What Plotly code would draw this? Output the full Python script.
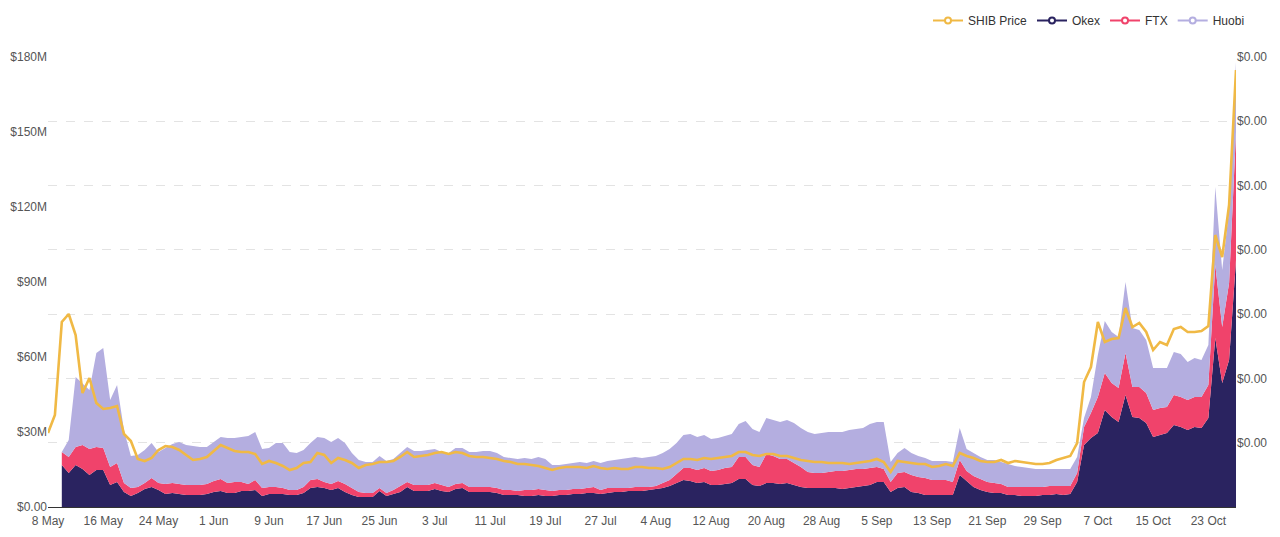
import pandas as pd
import plotly.graph_objects as go

# ---------------- data ----------------
start_date = "2021-05-08"
end_date = "2021-10-27"
dates = list(pd.date_range(start_date, end_date, freq="D"))  # 173 days

# SHIB price (USD), one value per day from 8 May
shib_price = [
    14.8e-6, 18.4e-6, 37.0e-6, 38.6e-6, 34.4e-6, 22.8e-6, 25.8e-6, 20.8e-6, 19.6e-6, 19.8e-6,
    20.2e-6, 14.6e-6, 13.2e-6, 9.6e-6, 9.2e-6, 9.8e-6, 11.4e-6, 12.2e-6, 12.0e-6, 11.4e-6,
    10.4e-6, 9.4e-6, 9.6e-6, 10.0e-6, 11.2e-6, 12.4e-6, 11.8e-6, 11.2e-6, 11.0e-6, 11.0e-6,
    10.6e-6, 8.6e-6, 9.2e-6, 8.8e-6, 8.2e-6, 7.4e-6, 7.8e-6, 8.8e-6, 9.0e-6, 10.8e-6,
    10.4e-6, 8.8e-6, 9.8e-6, 9.4e-6, 8.8e-6, 7.8e-6, 8.4e-6, 8.6e-6, 9.0e-6, 9.0e-6,
    9.2e-6, 10.0e-6, 11.0e-6, 10.0e-6, 10.2e-6, 10.4e-6, 10.8e-6, 11.0e-6, 10.6e-6, 11.0e-6,
    10.8e-6, 10.2e-6, 10.0e-6, 10.0e-6, 9.8e-6, 9.6e-6, 9.2e-6, 9.0e-6, 8.6e-6, 8.6e-6,
    8.4e-6, 8.2e-6, 7.8e-6, 7.4e-6, 7.8e-6, 8.0e-6, 8.0e-6, 8.0e-6, 7.8e-6, 8.2e-6,
    7.8e-6, 7.6e-6, 7.8e-6, 7.6e-6, 7.6e-6, 8.0e-6, 8.0e-6, 7.8e-6, 7.8e-6, 7.6e-6,
    8.0e-6, 8.8e-6, 9.6e-6, 9.6e-6, 9.4e-6, 9.8e-6, 9.6e-6, 9.8e-6, 10.0e-6, 10.2e-6,
    11.0e-6, 11.0e-6, 10.4e-6, 10.2e-6, 10.6e-6, 10.6e-6, 10.2e-6, 10.2e-6, 9.8e-6, 9.4e-6,
    9.2e-6, 9.0e-6, 9.0e-6, 8.8e-6, 8.8e-6, 8.8e-6, 8.6e-6, 8.8e-6, 9.0e-6, 9.2e-6,
    9.6e-6, 9.0e-6, 7.0e-6, 9.2e-6, 9.0e-6, 8.8e-6, 8.6e-6, 8.6e-6, 8.0e-6, 8.2e-6,
    8.6e-6, 8.2e-6, 10.8e-6, 10.2e-6, 9.8e-6, 9.2e-6, 9.0e-6, 9.0e-6, 9.4e-6, 8.8e-6,
    9.2e-6, 9.0e-6, 8.8e-6, 8.6e-6, 8.6e-6, 8.8e-6, 9.4e-6, 9.8e-6, 10.2e-6, 12.8e-6,
    25.0e-6, 28.0e-6, 37.0e-6, 33.0e-6, 33.6e-6, 33.8e-6, 39.8e-6, 36.0e-6, 36.8e-6, 35.0e-6,
    31.4e-6, 33.0e-6, 32.4e-6, 35.6e-6, 36.0e-6, 35.0e-6, 35.0e-6, 35.2e-6, 36.2e-6, 54.4e-6,
    50.0e-6, 60.4e-6, 87.4e-6,
]

# Exchange volumes (USD millions), one value per day from 10 May
okex_musd = [
    16.8, 13.6, 16.8, 15.2, 12.8, 14.8, 14.8, 8.8, 10.0, 6.0,
    4.4, 5.6, 7.2, 8.0, 6.8, 5.2, 5.6, 5.2, 4.8, 4.8,
    4.8, 5.2, 6.0, 6.4, 5.6, 5.6, 6.4, 6.4, 6.8, 4.4,
    5.2, 5.2, 5.2, 4.8, 4.8, 5.6, 7.6, 8.0, 7.6, 6.8,
    7.6, 6.0, 4.8, 4.0, 4.0, 4.0, 6.4, 4.4, 5.2, 6.0,
    8.0, 6.4, 6.4, 6.4, 7.2, 6.4, 6.0, 7.2, 7.6, 6.0,
    6.0, 6.0, 6.0, 5.6, 4.8, 4.8, 4.8, 4.4, 4.4, 4.8,
    4.4, 4.4, 4.8, 4.8, 5.2, 5.2, 5.6, 5.6, 5.2, 5.6,
    6.0, 6.0, 6.4, 6.4, 6.4, 6.8, 7.2, 7.6, 8.4, 9.6,
    10.8, 10.4, 9.6, 10.0, 8.8, 8.8, 9.2, 9.6, 11.2, 11.2,
    8.8, 8.4, 9.6, 9.6, 9.2, 9.6, 8.8, 8.0, 7.6, 7.6,
    7.6, 7.6, 7.6, 7.2, 7.6, 8.0, 8.4, 8.8, 10.0, 10.0,
    6.0, 7.6, 8.0, 6.0, 5.6, 4.8, 4.8, 4.8, 4.8, 4.8,
    12.8, 10.4, 8.0, 6.8, 6.0, 5.6, 5.6, 4.8, 4.8, 4.4,
    4.4, 4.4, 4.8, 4.8, 5.2, 4.8, 5.2, 10.0, 24.8, 27.6,
    29.6, 38.8, 36.0, 34.0, 44.8, 36.0, 35.6, 33.6, 28.0, 28.8,
    29.6, 32.8, 32.0, 30.8, 32.0, 31.6, 35.6, 67.6, 49.6, 58.8,
    98.8,
]

ftx_musd = [
    5.2, 6.4, 7.2, 9.6, 10.4, 9.2, 8.8, 7.2, 7.6, 3.6,
    3.2, 2.4, 2.4, 3.6, 2.8, 4.0, 4.0, 4.0, 4.0, 4.0,
    4.0, 4.0, 4.4, 4.8, 4.0, 4.4, 3.6, 2.8, 4.0, 3.2,
    2.8, 2.8, 2.4, 2.0, 2.0, 2.4, 3.2, 3.2, 2.4, 2.4,
    2.8, 3.2, 2.8, 2.0, 1.6, 1.6, 1.2, 1.2, 1.6, 2.4,
    2.0, 2.4, 2.4, 2.4, 2.4, 2.4, 2.0, 2.0, 2.0, 2.0,
    2.0, 2.0, 2.0, 2.0, 2.0, 2.0, 1.6, 2.4, 2.4, 2.4,
    2.4, 2.0, 2.0, 2.0, 2.0, 2.0, 2.0, 2.4, 1.6, 2.0,
    1.6, 1.6, 1.2, 1.6, 1.6, 1.2, 1.2, 2.0, 2.4, 3.6,
    4.8, 5.2, 5.2, 5.6, 5.6, 6.0, 6.4, 6.4, 8.8, 8.8,
    8.0, 7.6, 11.6, 10.8, 10.0, 9.6, 8.8, 8.0, 6.4, 6.0,
    6.0, 6.4, 6.8, 7.2, 7.2, 7.2, 6.8, 6.8, 6.0, 5.2,
    4.0, 6.0, 6.0, 6.8, 6.4, 6.8, 6.0, 6.0, 6.0, 5.2,
    6.0, 4.0, 4.4, 4.4, 4.0, 4.0, 3.6, 3.2, 3.2, 3.6,
    3.6, 3.6, 3.2, 3.6, 3.2, 3.6, 3.2, 3.6, 7.2, 10.0,
    14.4, 14.8, 13.6, 13.6, 16.8, 12.0, 12.4, 12.0, 10.8, 10.8,
    10.4, 12.0, 12.0, 12.0, 12.0, 12.4, 13.2, 29.2, 22.4, 30.8,
    51.2,
]

huobi_musd = [
    None, 6.8, 28.0, 24.4, 23.6, 37.6, 40.0, 26.8, 31.2, 21.2,
    12.8, 12.8, 13.2, 14.0, 12.4, 14.4, 15.6, 16.8, 16.0, 15.6,
    15.2, 14.8, 15.6, 16.8, 18.0, 17.6, 18.0, 19.2, 19.2, 15.6,
    15.6, 17.6, 18.0, 15.2, 14.8, 14.8, 14.8, 16.8, 17.6, 16.8,
    17.2, 16.4, 14.0, 12.8, 12.4, 12.4, 12.8, 12.8, 12.4, 13.2,
    14.0, 13.6, 13.6, 14.0, 13.6, 13.2, 13.6, 14.4, 14.0, 14.0,
    14.0, 14.4, 14.4, 14.0, 13.2, 12.8, 12.8, 12.8, 12.4, 12.8,
    12.4, 10.4, 10.0, 10.4, 10.4, 10.8, 10.0, 10.4, 10.8, 10.8,
    11.2, 11.6, 12.0, 12.0, 11.6, 12.0, 12.0, 12.0, 12.4, 12.4,
    13.2, 13.6, 13.2, 13.2, 12.8, 12.8, 12.8, 13.2, 13.2, 14.4,
    14.4, 14.0, 14.4, 14.4, 14.8, 15.6, 16.0, 15.6, 16.0, 15.6,
    16.0, 16.0, 15.6, 15.6, 16.0, 16.0, 16.4, 17.6, 18.0, 18.8,
    8.0, 8.0, 9.6, 8.8, 8.4, 8.0, 7.6, 7.6, 7.6, 8.0,
    12.8, 8.8, 9.2, 8.8, 8.8, 9.2, 8.8, 9.2, 8.4, 8.0,
    7.6, 7.2, 7.2, 6.8, 6.8, 6.8, 6.8, 6.4, 3.6, 6.4,
    16.8, 20.8, 20.4, 20.4, 28.4, 23.6, 22.8, 21.2, 16.8, 16.0,
    15.6, 17.2, 17.2, 15.2, 15.6, 14.8, 16.0, 31.2, 22.8, 29.2,
    28.0,
]

volume_start_index = 2  # volumes start on 10 May

left_tick_vals_musd = [0, 30, 60, 90, 120, 150, 180]
left_tick_text = ["$0.00", "$30M", "$60M", "$90M", "$120M", "$150M", "$180M"]
price_axis_max = 90e-6
price_tick_count = 7

series_names = ["SHIB Price", "Okex", "FTX", "Huobi"]

# ---------------- styling ----------------
C_PRICE = "#f0b945"
C_OKEX = "#2a2360"
C_FTX = "#f0436b"
C_HUOBI = "#b4aee0"
FONT = "Liberation Sans, Arial, sans-serif"

# page body has an 8px margin; figure sized so that page fits the 1280x537 window
FIG_W, FIG_H = 1264, 521
M_L, M_T, M_R, M_B = 40, 49, 36, 22
PLOT_W = FIG_W - M_L - M_R
PLOT_H = FIG_H - M_T - M_B

vol_dates = dates[volume_start_index:]
to_usd = lambda arr: [None if v is None else v * 1e6 for v in arr]

fig = go.Figure()

for name, vals, col in [("Okex", okex_musd, C_OKEX),
                        ("FTX", ftx_musd, C_FTX),
                        ("Huobi", huobi_musd, C_HUOBI)]:
    fig.add_trace(go.Scatter(
        x=vol_dates, y=to_usd(vals), name=name, mode="lines",
        stackgroup="vol", line=dict(width=0, color=col),
        fillcolor=col, showlegend=False, hoverinfo="skip",
    ))

fig.add_trace(go.Scatter(
    x=dates, y=shib_price, name="SHIB Price", mode="lines",
    line=dict(color=C_PRICE, width=2.6), yaxis="y2",
    showlegend=False, hoverinfo="skip",
))

# legend entries (line with hollow circle marker)
for name, col in zip(series_names, [C_PRICE, C_OKEX, C_FTX, C_HUOBI]):
    fig.add_trace(go.Scatter(
        x=[None], y=[None], name=name, mode="lines+markers",
        line=dict(color=col, width=2),
        marker=dict(symbol="circle", size=6, color="white",
                    line=dict(color=col, width=2)),
        yaxis="y2",
    ))

price_ticks = [price_axis_max * k / price_tick_count for k in range(1, price_tick_count + 1)]

fig.update_layout(
    width=FIG_W, height=FIG_H,
    margin=dict(l=M_L, r=M_R, t=M_T, b=M_B, autoexpand=False),
    paper_bgcolor="white", plot_bgcolor="white",
    font=dict(family=FONT, size=12, color="#555"),
    hovermode=False,
    showlegend=True,
    legend=dict(orientation="h",
                x=1 + 14 / PLOT_W, xanchor="right",
                y=1 + (M_T + 2) / PLOT_H, yanchor="top",
                traceorder="normal", itemwidth=30,
                font=dict(size=12, color="#333"),
                bgcolor="rgba(0,0,0,0)"),
    xaxis=dict(
        type="date", range=[dates[0], dates[-1]], automargin=False,
        tick0=start_date, dtick=8 * 86400000, tickformat="%-d %b",
        showgrid=False, zeroline=False,
        showline=True, linecolor="#333", linewidth=1,
        ticks="", ticklabelstandoff=3, tickfont=dict(size=12, color="#555"),
    ),
    yaxis=dict(
        range=[0, 180e6], automargin=False,
        tickvals=[v * 1e6 for v in left_tick_vals_musd], ticktext=left_tick_text,
        showgrid=False, zeroline=False, showline=False, ticks="",
        tickfont=dict(size=12, color="#555"),
    ),
    yaxis2=dict(
        overlaying="y", side="right", range=[0, price_axis_max], automargin=False,
        tickvals=price_ticks, ticktext=["$0.00"] * len(price_ticks),
        showgrid=True, gridcolor="#e3e3e3", griddash="dash", gridwidth=1,
        zeroline=False, showline=False, ticks="",
        tickfont=dict(size=12, color="#555"),
    ),
)

fig.write_html("out.html")
